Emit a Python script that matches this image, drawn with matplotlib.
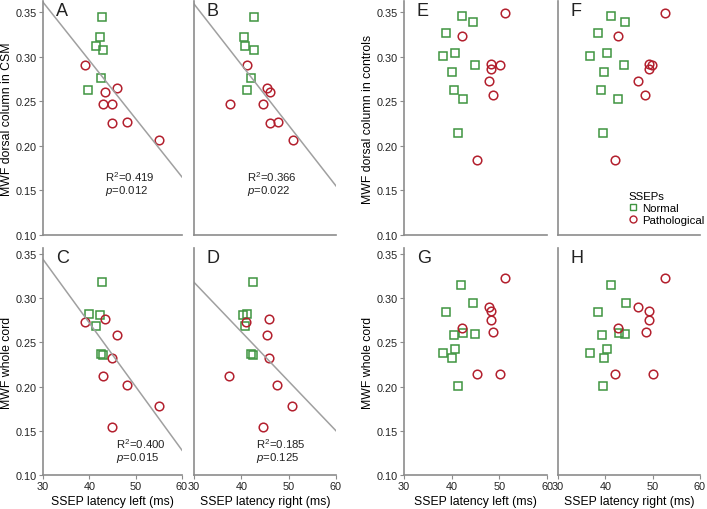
import numpy as np
import matplotlib
matplotlib.use('Agg')
import matplotlib.pyplot as plt
from matplotlib.lines import Line2D

plt.rcParams['font.family'] = ['Liberation Sans', 'DejaVu Sans']
plt.rcParams['mathtext.fontset'] = 'custom'
plt.rcParams['mathtext.rm'] = 'Liberation Sans'
plt.rcParams['mathtext.it'] = 'Liberation Sans:italic'

GREEN = '#3f9440'
RED = '#b3202e'
GRAY = '#8c8c8c'

# ---- CSM patients: left / right latency, dorsal column and whole cord MWF
csm_norm_left = [42.7, 42.2, 41.4, 43.0, 42.5, 39.8]
csm_norm_right = [42.6, 40.6, 40.7, 42.6, 42.1, 41.2]
csm_norm_dc = [0.344, 0.322, 0.3115, 0.307, 0.276, 0.263]
csm_path_left = [39.1, 43.3, 46.0, 42.9, 44.9, 44.8, 48.1, 55.0]
csm_path_right = [41.1, 46.1, 45.5, 44.5, 37.5, 46.0, 47.7, 50.9]
csm_path_dc = [0.290, 0.260, 0.265, 0.247, 0.247, 0.226, 0.227, 0.206]

csm_norm_left_c = [42.7, 39.9, 42.2, 41.5, 42.5, 43.0]
csm_norm_right_c = [42.5, 41.1, 40.4, 40.7, 42.0, 42.5]
csm_norm_wc = [0.318, 0.282, 0.281, 0.269, 0.237, 0.236]
csm_path_left_c = [39.0, 43.3, 46.0, 44.8, 42.9, 48.1, 55.0, 44.9]
csm_path_right_c = [41.0, 45.9, 45.4, 45.9, 37.4, 47.5, 50.7, 44.5]
csm_path_wc = [0.273, 0.276, 0.258, 0.232, 0.212, 0.202, 0.178, 0.154]

# regression lines: (y at 30 ms, y at 60 ms)
fit_A = [0.361, 0.165]
fit_B = [0.359, 0.155]
fit_C = [0.344, 0.128]
fit_D = [0.318, 0.150]
stats_A = ['0.419', '0.012']
stats_B = ['0.366', '0.022']
stats_C = ['0.400', '0.015']
stats_D = ['0.185', '0.125']

# ---- controls
ctl_norm_left = [42.1, 44.5, 38.8, 38.1, 40.7, 44.8, 40.0, 40.4, 42.4, 41.3]
ctl_norm_right = [41.2, 44.2, 38.4, 36.7, 40.3, 44.0, 39.7, 39.1, 42.7, 39.5]
ctl_norm_dc = [0.346, 0.339, 0.326, 0.301, 0.304, 0.290, 0.283, 0.263, 0.252, 0.214]
ctl_path_left = [51.1, 42.2, 48.3, 50.2, 48.3, 47.8, 48.6, 45.3]
ctl_path_right = [52.5, 42.6, 49.2, 49.9, 49.2, 46.9, 48.3, 42.0]
ctl_path_dc = [0.349, 0.323, 0.292, 0.291, 0.286, 0.273, 0.257, 0.184]

ctl_norm_left_c = [42.0, 44.5, 38.8, 40.4, 42.4, 44.8, 40.7, 38.1, 40.0, 41.3]
ctl_norm_right_c = [41.3, 44.3, 38.4, 39.2, 42.8, 44.1, 40.4, 36.8, 39.7, 39.5]
ctl_norm_wc = [0.315, 0.295, 0.284, 0.258, 0.261, 0.260, 0.243, 0.238, 0.232, 0.201]
ctl_path_left_c = [51.1, 47.8, 48.3, 48.3, 48.6, 42.2, 45.3, 50.2]
ctl_path_right_c = [52.6, 47.0, 49.3, 49.3, 48.5, 42.6, 42.1, 50.0]
ctl_path_wc = [0.323, 0.290, 0.286, 0.275, 0.262, 0.266, 0.214, 0.214]

W, H = 707, 510
fig = plt.figure(figsize=(W / 100, H / 100), dpi=100)

cols = [(43, 182), (194, 336), (404, 547), (558, 700)]
rows = [(2, 236, 0.3623), (249, 476, 0.3568)]
TICK_FS = 7.8
LAB_FS = 8.8


def make_ax(col, row):
    x0, x1 = cols[col]
    y0, y1, ytop = rows[row]
    ax = fig.add_axes([x0 / W, 1 - y1 / H, (x1 - x0) / W, (y1 - y0) / H])
    ax.set_xlim(30, 60)
    ax.set_ylim(0.10, ytop)
    for s in ['top', 'right']:
        ax.spines[s].set_visible(False)
    for s in ['left', 'bottom']:
        ax.spines[s].set_color(GRAY)
        ax.spines[s].set_linewidth(1.2)
    ax.tick_params(direction='out', length=3, color=GRAY, labelsize=TICK_FS,
                   labelcolor='#222222', pad=1.5)
    ax.set_yticks([0.10, 0.15, 0.20, 0.25, 0.30, 0.35])
    ax.set_yticklabels(['0.10', '0.15', '0.20', '0.25', '0.30', '0.35'])
    ax.set_xticks([30, 40, 50, 60])
    if col in (1, 3):
        ax.tick_params(axis='y', left=False, labelleft=False)
    if row == 0:
        ax.tick_params(axis='x', bottom=False, labelbottom=False)
    return ax


def scatter(ax, nx, ny, px, py):
    ax.plot(nx, ny, 's', ms=5.5, mfc='none', mec=GREEN, mew=1.1, clip_on=False)
    ax.plot(px, py, 'o', ms=6.2, mfc='none', mec=RED, mew=1.1, clip_on=False)


def label(ax, s):
    ax.annotate(s, xy=(0, 1), xycoords='axes fraction', xytext=(13, -1),
                textcoords='offset pixels', ha='left', va='top', fontsize=13,
                color='#222222')


def stats(ax, x, y, r2, p):
    ax.text(x, y, 'R$^2$=' + r2, fontsize=8.2, color='#222222', va='center')
    ax.text(x, y - 0.0155, '$\\it{p}$=' + p, fontsize=8.2, color='#222222', va='center')


axA = make_ax(0, 0)
scatter(axA, csm_norm_left, csm_norm_dc, csm_path_left, csm_path_dc)
axA.plot([30, 60], fit_A, color='#a0a0a0', lw=1.1)
stats(axA, 43.4, 0.1665, *stats_A)
axA.set_ylabel('MWF dorsal column in CSM', fontsize=LAB_FS, labelpad=2)
label(axA, 'A')

axB = make_ax(1, 0)
scatter(axB, csm_norm_right, csm_norm_dc, csm_path_right, csm_path_dc)
axB.plot([30, 60], fit_B, color='#a0a0a0', lw=1.1)
stats(axB, 41.1, 0.1665, *stats_B)
label(axB, 'B')

axC = make_ax(0, 1)
scatter(axC, csm_norm_left_c, csm_norm_wc, csm_path_left_c, csm_path_wc)
axC.plot([30, 60], fit_C, color='#a0a0a0', lw=1.1)
stats(axC, 45.7, 0.136, *stats_C)
axC.set_ylabel('MWF whole cord', fontsize=LAB_FS, labelpad=2)
axC.set_xlabel('SSEP latency left (ms)', fontsize=LAB_FS, labelpad=3)
label(axC, 'C')

axD = make_ax(1, 1)
scatter(axD, csm_norm_right_c, csm_norm_wc, csm_path_right_c, csm_path_wc)
axD.plot([30, 60], fit_D, color='#a0a0a0', lw=1.1)
stats(axD, 43.0, 0.136, *stats_D)
axD.set_xlabel('SSEP latency right (ms)', fontsize=LAB_FS, labelpad=3)
label(axD, 'D')

axE = make_ax(2, 0)
scatter(axE, ctl_norm_left, ctl_norm_dc, ctl_path_left, ctl_path_dc)
axE.set_ylabel('MWF dorsal column in controls', fontsize=LAB_FS, labelpad=2)
label(axE, 'E')

axF = make_ax(3, 0)
scatter(axF, ctl_norm_right, ctl_norm_dc, ctl_path_right, ctl_path_dc)
label(axF, 'F')
handles = [Line2D([], [], ls='none', marker='s', ms=4.5, mfc='none', mec=GREEN, mew=1.0),
           Line2D([], [], ls='none', marker='o', ms=5, mfc='none', mec=RED, mew=1.0)]
leg = axF.legend(handles, ['Normal', 'Pathological'], title='SSEPs', loc='lower left',
                 bbox_to_anchor=(0.44, 0.01), frameon=False, fontsize=8.2,
                 title_fontsize=8.2, handlelength=0.8, handletextpad=0.4,
                 labelspacing=0.15, borderpad=0.2)
leg._legend_box.align = 'left'

axG = make_ax(2, 1)
scatter(axG, ctl_norm_left_c, ctl_norm_wc, ctl_path_left_c, ctl_path_wc)
axG.set_ylabel('MWF whole cord', fontsize=LAB_FS, labelpad=2)
axG.set_xlabel('SSEP latency left (ms)', fontsize=LAB_FS, labelpad=3)
label(axG, 'G')

axH = make_ax(3, 1)
scatter(axH, ctl_norm_right_c, ctl_norm_wc, ctl_path_right_c, ctl_path_wc)
axH.set_xlabel('SSEP latency right (ms)', fontsize=LAB_FS, labelpad=3)
label(axH, 'H')

fig.savefig('out.png', dpi=100)
